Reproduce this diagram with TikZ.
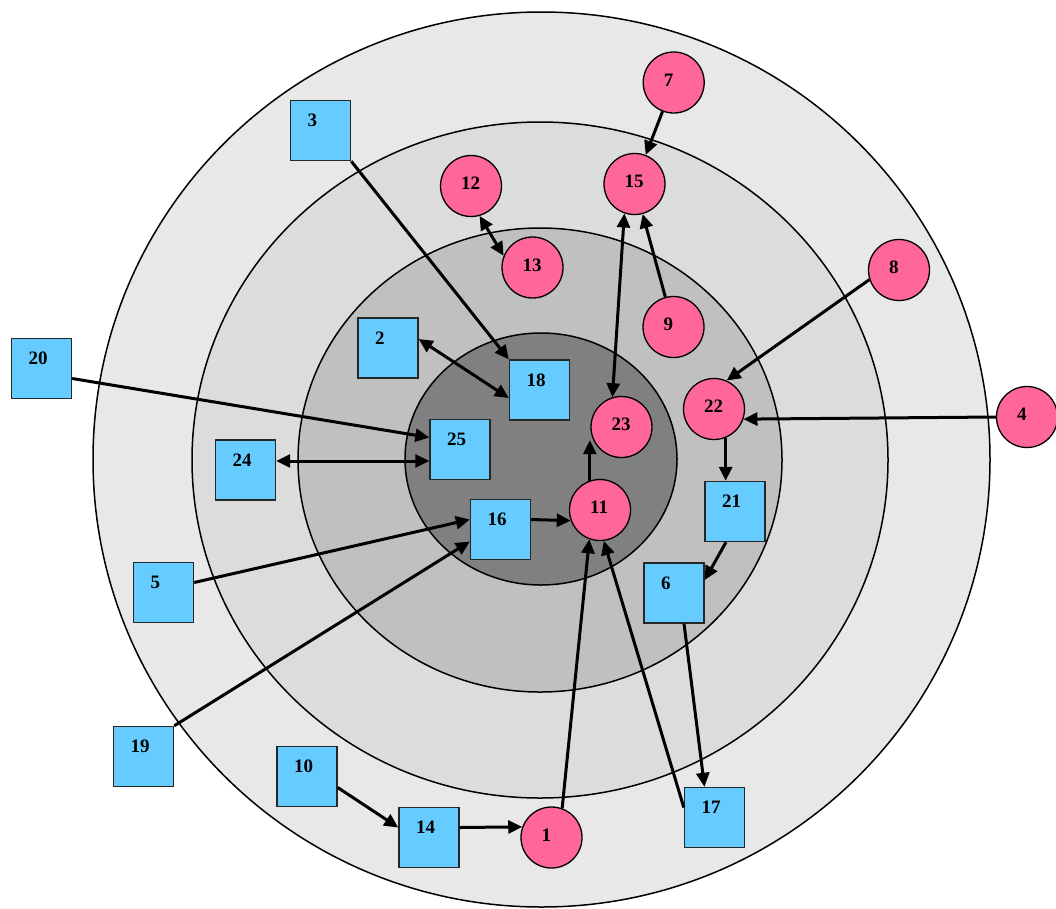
\documentclass[tikz,border=0pt]{standalone}
\usepackage{fontspec}
\setmainfont{Liberation Serif}
\usetikzlibrary{arrows.meta,calc}
\definecolor{sqc}{HTML}{66CCFF}
\definecolor{cic}{HTML}{FF6699}
\definecolor{ga}{HTML}{E8E8E8}
\definecolor{gb}{HTML}{DCDCDC}
\definecolor{gc}{HTML}{C0C0C0}
\definecolor{gd}{HTML}{808080}
\begin{document}
\begin{tikzpicture}[x=1pt,y=-1pt,
  ring/.style={draw=black,line width=1.5pt},
  sq/.style={rectangle,draw=black!85,line width=1.4pt,fill=sqc,minimum size=60pt,inner sep=0pt},
  ci/.style={circle,draw=black,line width=1.3pt,fill=cic,minimum size=61pt,inner sep=0pt},
  lab/.style={inner sep=0pt,font=\fontsize{19}{21}\selectfont\bfseries,anchor=west},
  conn/.style={line width=3pt,-{Triangle[length=14pt,width=13pt]}},
  dconn/.style={line width=3pt,{Triangle[length=14pt,width=13pt]}-{Triangle[length=14pt,width=13pt]}}]
\useasboundingbox (0,0) rectangle (1056,908);
\fill[white] (0,0) rectangle (1056,908);
% rings
\filldraw[ring,fill=ga] (541.5,459.5) ellipse [x radius=448.5,y radius=447.5];
\filldraw[ring,fill=gb] (540,460) ellipse [x radius=348,y radius=338];
\filldraw[ring,fill=gc] (540,460) ellipse [x radius=242,y radius=232];
\filldraw[ring,fill=gd] (541,459) ellipse [x radius=136,y radius=126];
% squares
\foreach \n/\x/\y in {3/320.5/130.5, 2/388/348, 20/41.5/368.5, 18/539.5/390, 25/460/449.5,
  24/245.5/470, 16/500.5/529.5, 5/163.5/592.5, 21/735/511.5, 6/674/593,
  19/143.5/756.5, 10/307/776.5, 14/429/837.5, 17/714.5/817.5}{
  \node[sq] (n\n) at (\x,\y) {};
  \node[lab] (t\n) at ([xshift=-13pt,yshift=10pt]n\n.center) {\n};
}
% circles
\foreach \n/\x/\y in {7/673.7/82.5, 15/634.5/184, 12/471/186, 13/532.5/267.5, 9/673.5/327,
  8/899/270, 22/714/409, 4/1027/417, 23/621.5/427, 11/600/510, 1/551.5/837.5}{
  \node[ci] (n\n) at (\x,\y) {};
  \node[lab] (t\n) at ([xshift=-10pt,yshift=2.5pt]n\n.center) {\n};
}
% connectors
\draw[conn] (n7) -- (n15);
\draw[conn] (n9) -- (n15);
\draw[dconn] (n23.107) -- (n15.-109);
\draw[dconn] (n12.-74) -- (n13.158);
\draw[conn] (n3.south east) -- (n18.north west);
\draw[dconn] ([yshift=9pt]n2.east) -- ([yshift=-8pt]n18.west);
\draw[conn] ([yshift=-10pt]n20.east) -- ([yshift=12pt]n25.west);
\draw[dconn] ([yshift=9pt]n24.east) -- ([yshift=9pt]n24.east -| n25.west);
\draw[conn] ([yshift=10pt]n5.east) -- ([yshift=10pt]n16.west);
\draw[conn] (n19.north east) -- ([yshift=-12pt]n16.west);
\draw[conn] ([yshift=10pt]n16.east) -- (n11.-160);
\draw[conn] (n11.109) -- (n11.109 |- n23.205);
\draw[conn] (n8.198) -- (n22.66);
\draw[conn] (n4.west) -- (n22.-19);
\draw[conn] (n22.-68) -- (n22.-68 |- n21.north);
\draw[conn] ([xshift=-9pt]n21.south) -- ([yshift=13pt]n6.east);
\draw[conn] ([xshift=10pt]n6.south) -- ([xshift=-10pt]n17.north);
\draw[conn] ([yshift=10pt]n17.west) -- (n11.-83);
\draw[conn] (n1.70) -- (n11.-110);
\draw[conn] ([yshift=-11pt]n10.east) -- ([yshift=10pt]n14.west);
\draw[conn] ([yshift=10pt]n14.east) -- (n1.160);
\end{tikzpicture}
\end{document}
